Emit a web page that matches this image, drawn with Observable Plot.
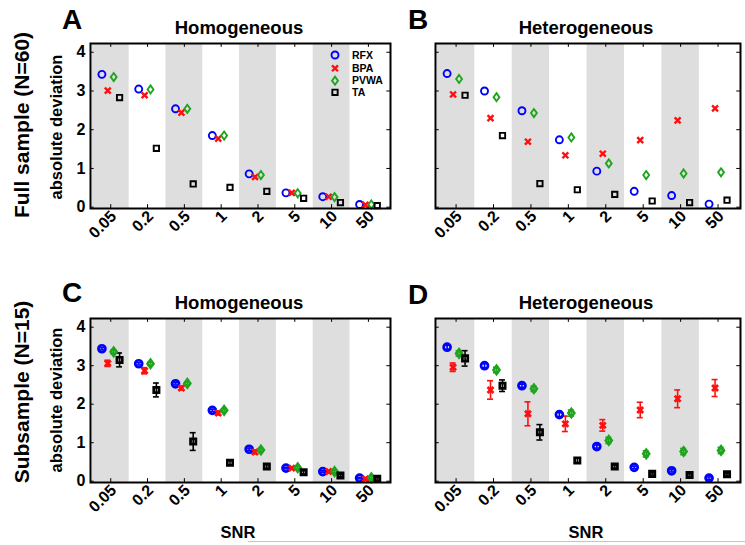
<!DOCTYPE html>
<html><head><meta charset="utf-8">
<script src="https://cdn.jsdelivr.net/npm/d3@7"></script>
<script src="https://cdn.jsdelivr.net/npm/@observablehq/plot@0.6"></script>
<style>
body{margin:0;background:#fff;}
#fig{position:relative;width:745px;height:545px;overflow:hidden;background:#fff;font-family:"Liberation Sans",Arial,sans-serif;font-weight:bold;color:#000;}
.t{position:absolute;white-space:nowrap;line-height:1;}
.p{position:absolute;}
</style></head><body><div id="fig"></div>
<script>
// ---- data ----
const snr = ["0.05","0.2","0.5","1","2","5","10","50"];
const methods = ["RFX","BPA","PVWA","TA"];
const yTicks = [0,1,2,3,4];

// A: Full sample, homogeneous
const fullHomRFX  = [3.43, 3.05, 2.54, 1.85, 0.86, 0.37, 0.27, 0.07];
const fullHomBPA  = [3.01, 2.89, 2.44, 1.77, 0.78, 0.37, 0.27, 0.06];
const fullHomPVWA = [3.36, 3.04, 2.54, 1.85, 0.83, 0.36, 0.26, 0.07];
const fullHomTA   = [2.83, 1.52, 0.60, 0.51, 0.41, 0.23, 0.12, 0.04];
// B: Full sample, heterogeneous
const fullHetRFX  = [3.45, 3.00, 2.49, 1.74, 0.93, 0.41, 0.30, 0.08];
const fullHetBPA  = [2.91, 2.30, 1.69, 1.34, 1.38, 1.73, 2.24, 2.55];
const fullHetPVWA = [3.31, 2.84, 2.43, 1.80, 1.13, 0.83, 0.87, 0.90];
const fullHetTA   = [2.89, 1.85, 0.61, 0.45, 0.33, 0.16, 0.12, 0.18];
// C: Subsample, homogeneous (mean, error half-width)
const subHomRFX   = [3.44, 3.05, 2.53, 1.84, 0.83, 0.34, 0.25, 0.08];
const subHomBPA   = [3.06, 2.87, 2.42, 1.77, 0.76, 0.34, 0.25, 0.06];
const subHomPVWA  = [3.36, 3.05, 2.54, 1.84, 0.81, 0.35, 0.25, 0.09];
const subHomTA    = [3.15, 2.37, 1.03, 0.48, 0.38, 0.23, 0.15, 0.06];
const subHomRFXErr  = [0.03, 0.03, 0.03, 0.03, 0.03, 0.02, 0.02, 0.02];
const subHomBPAErr  = [0.08, 0.08, 0.05, 0.05, 0.05, 0.03, 0.03, 0.03];
const subHomPVWAErr = [0.05, 0.04, 0.04, 0.04, 0.04, 0.03, 0.03, 0.03];
const subHomTAErr   = [0.18, 0.18, 0.23, 0.06, 0.05, 0.04, 0.03, 0.03];
// D: Subsample, heterogeneous
const subHetRFX   = [3.48, 3.00, 2.48, 1.73, 0.90, 0.36, 0.27, 0.08];
const subHetBPA   = [2.96, 2.37, 1.75, 1.49, 1.45, 1.85, 2.14, 2.42];
const subHetPVWA  = [3.32, 2.89, 2.40, 1.77, 1.06, 0.71, 0.77, 0.80];
const subHetTA    = [3.19, 2.48, 1.27, 0.54, 0.38, 0.19, 0.16, 0.18];
const subHetRFXErr  = [0.05, 0.05, 0.04, 0.05, 0.04, 0.03, 0.03, 0.03];
const subHetBPAErr  = [0.11, 0.24, 0.31, 0.20, 0.15, 0.20, 0.23, 0.22];
const subHetPVWAErr = [0.07, 0.07, 0.07, 0.08, 0.08, 0.08, 0.08, 0.08];
const subHetTAErr   = [0.20, 0.15, 0.20, 0.06, 0.04, 0.03, 0.03, 0.03];

// ---- styles ----
const colors = {RFX:"#0000ff", BPA:"#ff1010", PVWA:"#1ea51e", TA:"#000000"};
const offsets = {RFX:-0.24, BPA:-0.08, PVWA:0.08, TA:0.24};
const X0 = -0.55, X1 = 7.6, Y0 = -0.034, Y1 = 4.226;
const tallDiamond = {draw(ctx, size){ const r = Math.sqrt(size/Math.PI); const w = r*0.95, h = r*1.3;
  ctx.moveTo(0,-h); ctx.lineTo(w,0); ctx.lineTo(0,h); ctx.lineTo(-w,0); ctx.closePath(); }};
const symbols = {RFX:"circle", BPA:"times", PVWA:tallDiamond, TA:"square"};
const sizes = {RFX:3.5, BPA:2.8, PVWA:3.1, TA:3.0};

const fig = document.getElementById("fig");

function panel(series, errs, {left, top, width, height, mt, mb, ml, mr, yLabels}) {
  const rows = [];
  methods.forEach((m, k) => series[k].forEach((v, i) =>
    rows.push({method:m, i, x:i + offsets[m], y:v, e: errs ? errs[k][i] : 0})));
  const thick = !!errs;
  const marks = [
    Plot.rect([0,2,4,6], {x1: i => Math.max(i - 0.5, X0), x2: i => i + 0.5, y1: () => Y0, y2: () => Y1, fill:"#dedede"}),
    Plot.ruleY(yTicks, {y: d => d, x1: () => X0, x2: () => X0 + 0.1, stroke:"#000"}),
    Plot.ruleY(yTicks, {y: d => d, x1: () => X1 - 0.1, x2: () => X1, stroke:"#000"}),
    Plot.ruleX(d3.range(8), {x: d => d, y1: () => Y0, y2: () => Y0 + 0.1, stroke:"#000"}),
    Plot.ruleX(d3.range(8), {x: d => d, y1: () => Y1 - 0.1, y2: () => Y1, stroke:"#000"})
  ];
  if (errs) {
    marks.push(Plot.ruleX(rows, {x:"x", y1: d => d.y - d.e, y2: d => d.y + d.e, stroke: d => colors[d.method], strokeWidth:1.6}));
    marks.push(Plot.ruleY(rows, {y: d => d.y - d.e, x1: d => d.x - 0.08, x2: d => d.x + 0.08, stroke: d => colors[d.method], strokeWidth:1.6}));
    marks.push(Plot.ruleY(rows, {y: d => d.y + d.e, x1: d => d.x - 0.08, x2: d => d.x + 0.08, stroke: d => colors[d.method], strokeWidth:1.6}));
  }
  methods.forEach(m => {
    marks.push(Plot.dot(rows.filter(d => d.method === m), {
      x:"x", y:"y", symbol: symbols[m], r: sizes[m], fill:"none", stroke: colors[m],
      strokeWidth: m === "BPA" ? (thick ? 2.8 : 2.4) : (thick ? 2.7 : 1.9)
    }));
  });
  marks.push(Plot.frame({stroke:"#000", strokeWidth:2}));
  marks.push(Plot.axisY({ticks: yTicks, tickSize:0, tickPadding:5, label:null, fontSize:16, tickFormat: yLabels ? (d => d) : (() => "")}));
  marks.push(Plot.axisX({ticks: d3.range(8), tickFormat: i => snr[i], tickRotate:-45, tickSize:0, tickPadding:5, dx:3, label:null, fontSize:16}));
  const svg = Plot.plot({
    width, height, marginTop:mt, marginBottom:mb, marginLeft:ml, marginRight:mr,
    x:{domain:[X0, X1]}, y:{domain:[Y0, Y1]}, color:{type:"identity"},
    style:{fontFamily:"'Liberation Sans', Arial, sans-serif", fontWeight:"bold", fontSize:"16px", background:"transparent", overflow:"visible", color:"#000"},
    marks
  });
  const div = document.createElement("div");
  div.className = "p"; div.style.left = left + "px"; div.style.top = top + "px";
  div.appendChild(svg); fig.appendChild(div);
}

panel([fullHomRFX, fullHomBPA, fullHomPVWA, fullHomTA], null,
  {left:0, top:0, width:400, height:270, mt:43, mb:62, ml:90, mr:10, yLabels:true});
panel([fullHetRFX, fullHetBPA, fullHetPVWA, fullHetTA], null,
  {left:400, top:0, width:345, height:270, mt:43, mb:62, ml:35, mr:5, yLabels:false});
panel([subHomRFX, subHomBPA, subHomPVWA, subHomTA], [subHomRFXErr, subHomBPAErr, subHomPVWAErr, subHomTAErr],
  {left:0, top:270, width:400, height:275, mt:48, mb:63, ml:90, mr:10, yLabels:true});
panel([subHetRFX, subHetBPA, subHetPVWA, subHetTA], [subHetRFXErr, subHetBPAErr, subHetPVWAErr, subHetTAErr],
  {left:400, top:270, width:345, height:275, mt:48, mb:63, ml:35, mr:5, yLabels:false});

// ---- text ----
function text(str, css) {
  const d = document.createElement("div"); d.className = "t"; d.textContent = str;
  Object.assign(d.style, css); fig.appendChild(d); return d;
}
const ctr = (x, y, fs, rot) => ({left:x+"px", top:y+"px", fontSize:fs+"px", transform:`translate(-50%,-50%)${rot ? " rotate(-90deg)" : ""}`});
text("A", {left:"62px", top:"6px", fontSize:"28px"});
text("B", {left:"408px", top:"6px", fontSize:"28px"});
text("C", {left:"62px", top:"279px", fontSize:"28px"});
text("D", {left:"408px", top:"281px", fontSize:"28px"});
text("Homogeneous", ctr(239, 28, 18.5));
text("Heterogeneous", ctr(586, 28, 18.5));
text("Homogeneous", ctr(239, 303, 18.5));
text("Heterogeneous", ctr(586, 303, 18.5));
text("absolute deviation", ctr(56, 127, 16.5, true));
text("absolute deviation", ctr(56, 400, 16.5, true));
text("Full sample (N=60)", ctr(21, 125, 21, true));
text("Subsample (N=15)", ctr(21, 392, 21, true));
text("SNR", ctr(238, 532, 16.5));
text("SNR", ctr(586, 532, 16.5));

// legend (panel A)
const leg = d3.select(fig).append("svg").attr("width", 80).attr("height", 60)
  .style("position","absolute").style("left","320px").style("top","46px").style("overflow","visible");
methods.forEach((m, k) => {
  const y = [9, 22.3, 34.7, 46.3][k];
  const sym = typeof symbols[m] === "string" ? {circle:d3.symbolCircle, times:d3.symbolTimes, square:d3.symbolSquare}[symbols[m]] : symbols[m];
  leg.append("path").attr("transform", `translate(15,${y})`)
    .attr("d", d3.symbol(sym, sizes[m]*sizes[m]*Math.PI)())
    .attr("fill","none").attr("stroke", colors[m]).attr("stroke-width", m === "BPA" ? 2.4 : 1.9);
  leg.append("text").attr("x", 32).attr("y", y).attr("dy","0.36em").text(m)
    .style("font-family","'Liberation Sans', Arial, sans-serif").style("font-weight","bold").style("font-size","10.5px");
});

// faint rule along the bottom edge
const line = document.createElement("div");
Object.assign(line.style, {position:"absolute", left:"248px", top:"541px", width:"497px", height:"0", borderTop:"1.5px solid #c4c4c4"});
fig.appendChild(line);
</script></body></html>
